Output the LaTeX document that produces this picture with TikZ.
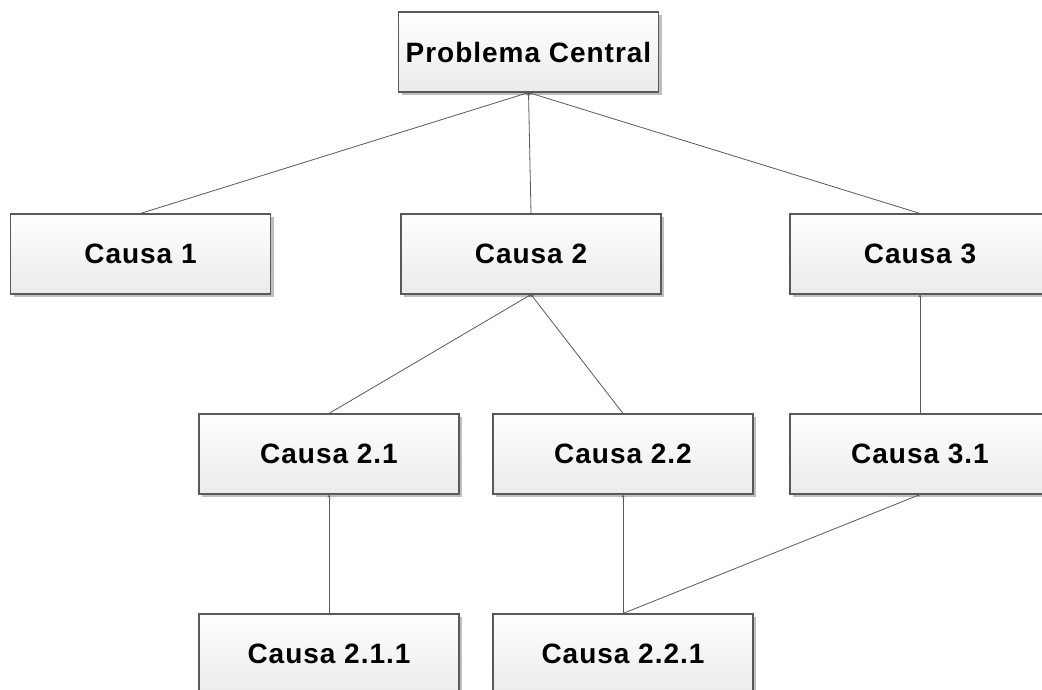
\documentclass[tikz,border=0pt]{standalone}
\usepackage{fontspec}
\setmainfont{Liberation Sans}
\newfontfamily\boxfont[LetterSpace=3.5]{Liberation Sans}
\usetikzlibrary{shadows,arrows.meta}
\tikzset{
  cbox/.style={draw=black!65, line width=1.1pt, top color=white, bottom color=black!8,
    minimum width=260pt, minimum height=80pt, inner sep=0pt,
    font=\boxfont\fontsize{28}{31}\selectfont\bfseries,
    drop shadow={shadow xshift=3pt, shadow yshift=-3pt, fill=black!25, opacity=1}},
  link/.style={draw=black!65, line width=0.8pt, -{Stealth[length=3pt,width=3pt]}}
}
\begin{document}
\begin{tikzpicture}[x=1pt,y=-1pt]
\useasboundingbox (0,0) rectangle (1042,690);
\clip (0,0) rectangle (1042,690);
\node[cbox] (pc) at (528.5,52) {Problema Central};
\node[cbox] (c1) at (140.5,254) {Causa 1};
\node[cbox] (c2) at (531,254) {Causa 2};
\node[cbox] (c3) at (920,254) {Causa 3};
\node[cbox] (c21) at (329,454) {Causa 2.1};
\node[cbox] (c22) at (623,454) {Causa 2.2};
\node[cbox] (c31) at (920,454) {Causa 3.1};
\node[cbox] (c211) at (329,654) {Causa 2.1.1};
\node[cbox] (c221) at (623,654) {Causa 2.2.1};
\draw[link] (c1.north) -- (pc.south);
\draw[link] (c2.north) -- (pc.south);
\draw[link] (c3.north) -- (pc.south);
\draw[link] (c21.north) -- (c2.south);
\draw[link] (c22.north) -- (c2.south);
\draw[link] (c31.north) -- (c3.south);
\draw[link] (c211.north) -- (c21.south);
\draw[link] (c221.north) -- (c22.south);
\draw[link] (c221.north) -- (c31.south);
\end{tikzpicture}
\end{document}
